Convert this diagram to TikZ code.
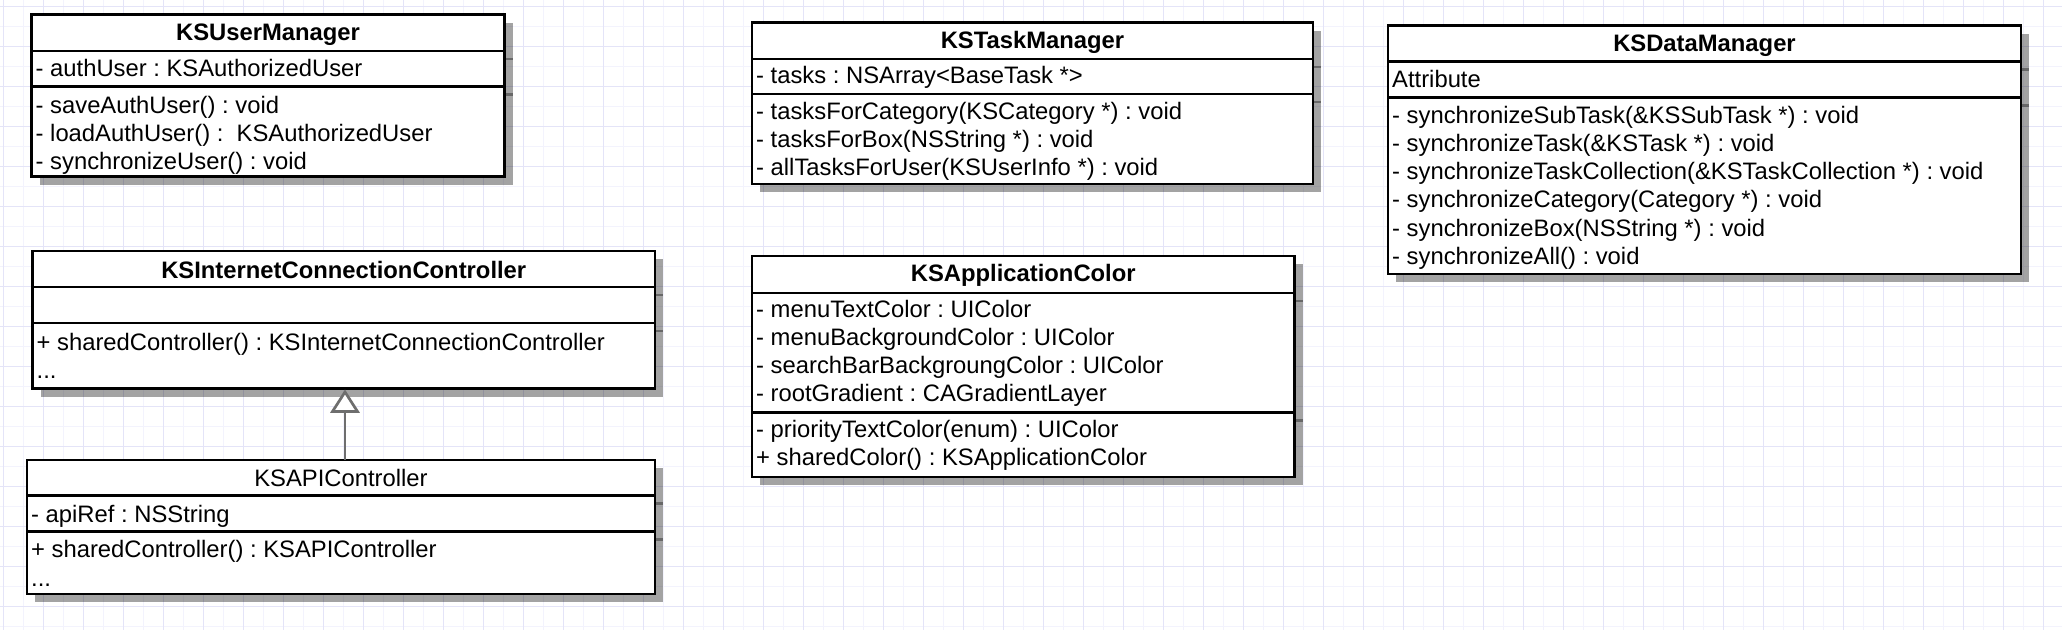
\documentclass[tikz,border=0pt]{standalone}
\usepackage{fontspec}
\setmainfont{Liberation Sans}
\usetikzlibrary{fit,calc}
\frenchspacing
\definecolor{gridmaj}{RGB}{228,228,248}
\definecolor{gridmin}{RGB}{243,243,253}
\definecolor{arrowgray}{RGB}{110,110,110}
\tikzset{
  classbox/.style={draw=black, line width=2.7pt, fill=white, inner sep=0pt, outer sep=0pt},
  sepline/.style={draw=black, line width=2.7pt},
  shadowbox/.style={fill=black, fill opacity=0.36},
  shadowtick/.style={draw=black, draw opacity=0.36, line width=2.7pt},
  mbr/.style={anchor=base west, inner sep=0pt, font=\fontsize{23.8}{28}\selectfont},
  clstitle/.style={anchor=base, inner sep=0pt, font=\fontsize{23.8}{28}\selectfont\bfseries},
  clsplain/.style={anchor=base, inner sep=0pt, font=\fontsize{23.8}{28}\selectfont},
  inherit/.style={draw=arrowgray, line width=2.7pt},
  hollowtri/.style={draw=arrowgray, fill=white, line width=2.7pt, line join=miter},
  majorgrid/.style={draw=gridmaj, line width=1.3pt},
  minorgrid/.style={draw=gridmin, line width=1pt},
}
\newcommand\umlbox[5]{%
  \fill[shadowbox] ({#2+8},{#3+8}) rectangle ({#4+8},{#5+8});
  \node[classbox, fit={(#2,#3) (#4,#5)}] (#1) {};
}
\newcommand\umlsep[2]{%
  \draw[shadowtick] (#1.east |- 0,{#2+8}) -- ++(8,0);
  \draw[sepline] (#1.west |- 0,#2) -- (#1.east |- 0,#2);
}
\begin{document}
\begin{tikzpicture}[x=1pt,y=-1pt]
\useasboundingbox (0,0) rectangle (2062,630);
\fill[white] (0,0) rectangle (2062,630);
% grid
\foreach \i in {0,...,50} \draw[minorgrid] ({23.3+40*\i},0) -- ({23.3+40*\i},630);
\foreach \i in {0,...,15} \draw[minorgrid] (0,{26.7+40*\i}) -- (2062,{26.7+40*\i});
\foreach \i in {0,...,51} \draw[majorgrid] ({3.3+40*\i},0) -- ({3.3+40*\i},630);
\foreach \i in {0,...,15} \draw[majorgrid] (0,{6.7+40*\i}) -- (2062,{6.7+40*\i});

% KSUserManager
\umlbox{A}{31.5}{14.5}{504.5}{176.5}
\umlsep{A}{51}
\umlsep{A}{86.5}
\node[clstitle] (At) at (A.north |- 0,40) {KSUserManager};
\node[mbr] (A1) at (35.5,76) {- authUser : KSAuthorizedUser};
\node[mbr] (A2) at (35.5,113) {- saveAuthUser() : void};
\node[mbr] (A3) at (35.5,141) {- loadAuthUser() :\ \ KSAuthorizedUser};
\node[mbr] (A4) at (35.5,169) {- synchronizeUser() : void};

% KSInternetConnectionController
\umlbox{B}{32.5}{251}{655}{388.5}
\umlsep{B}{287}
\umlsep{B}{323}
\node[clstitle] (Bt) at (B.north |- 0,278) {KSInternetConnectionController};
\node[mbr] (B1) at (36.5,350) {+ sharedController() : KSInternetConnectionController};
\node[mbr] (B2) at (36.5,378) {...};

% KSAPIController
\umlbox{C}{27}{460}{655}{594}
\umlsep{C}{495.5}
\umlsep{C}{531.5}
\node[clsplain] (Ct) at (C.north |- 0,486) {KSAPIController};
\node[mbr] (C1) at (31,522) {- apiRef : NSString};
\node[mbr] (C2) at (31,557.5) {+ sharedController() : KSAPIController};
\node[mbr] (C3) at (31,586) {...};

% inheritance
\coordinate (ax) at (345,0);
\coordinate (tip) at ($(B.south -| ax)+(0,3.5)$);
\coordinate (tribase) at ($(tip)+(0,19.5)$);
\draw[inherit] (C.north -| ax) -- (tribase);
\draw[hollowtri] (tip) -- ++(12.5,19.5) -- ++(-25,0) -- cycle;

% KSTaskManager
\umlbox{D}{752}{22.7}{1313}{184}
\umlsep{D}{59}
\umlsep{D}{94}
\node[clstitle] (Dt) at (D.north |- 0,48.3) {KSTaskManager};
\node[mbr] (D1) at (756,83.5) {- tasks : NSArray<BaseTask *>};
\node[mbr] (D2) at (756,119.5) {- tasksForCategory(KSCategory *) : void};
\node[mbr] (D3) at (756,147.7) {- tasksForBox(NSString *) : void};
\node[mbr] (D4) at (756,175.8) {- allTasksForUser(KSUserInfo *) : void};

% KSApplicationColor
\umlbox{E}{752}{256}{1294.5}{477}
\umlsep{E}{293}
\umlsep{E}{412.5}
\node[clstitle] (Et) at (E.north |- 0,281.7) {KSApplicationColor};
\node[mbr] (E1) at (756,317) {- menuTextColor : UIColor};
\node[mbr] (E2) at (756,345.3) {- menuBackgroundColor : UIColor};
\node[mbr] (E3) at (756,373.6) {- searchBarBackgroungColor : UIColor};
\node[mbr] (E4) at (756,401.9) {- rootGradient : CAGradientLayer};
\node[mbr] (E5) at (756,437) {- priorityTextColor(enum) : UIColor};
\node[mbr] (E6) at (756,465) {+ sharedColor() : KSApplicationColor};

% KSDataManager
\umlbox{F}{1388}{25.7}{2021}{274}
\umlsep{F}{61.8}
\umlsep{F}{97.3}
\node[clstitle] (Ft) at (F.north |- 0,51.5) {KSDataManager};
\node[mbr] (F0) at (1392,87.3) {Attribute};
\node[mbr] (F1) at (1392,123.3) {- synchronizeSubTask(\&KSSubTask *) : void};
\node[mbr] (F2) at (1392,151.5) {- synchronizeTask(\&KSTask *) : void};
\node[mbr] (F3) at (1392,179.7) {- synchronizeTaskCollection(\&KSTaskCollection *) : void};
\node[mbr] (F4) at (1392,207.9) {- synchronizeCategory(Category *) : void};
\node[mbr] (F5) at (1392,236.1) {- synchronizeBox(NSString *) : void};
\node[mbr] (F6) at (1392,264.3) {- synchronizeAll() : void};
\end{tikzpicture}
\end{document}
